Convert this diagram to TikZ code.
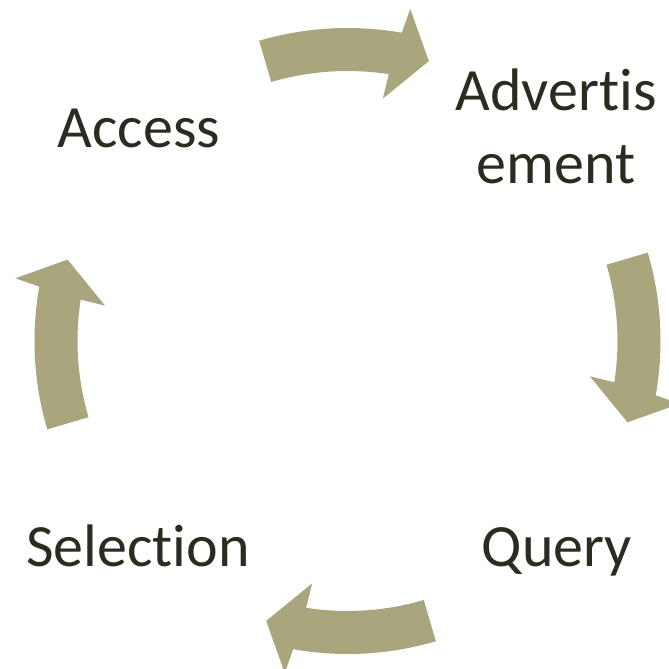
\documentclass[tikz,border=0pt]{standalone}
\usepackage{fontspec}
\setmainfont{Carlito}[Ligatures=CommonOff]
\definecolor{arrowcol}{RGB}{169,166,126}
\definecolor{textcol}{RGB}{45,42,32}
\definecolor{bggray}{RGB}{234,234,234}
\pgfdeclareradialshading{bgshade}{\pgfpoint{0bp}{0bp}}{color(0bp)=(white); color(34bp)=(white); color(50bp)=(bggray)}
\newcommand\cyclearrow[1]{%
  \fill[arrowfill] ({106.4+#1}:313pt) arc[start angle={106.4+#1}, end angle={80+#1}, radius=313pt]
    -- ({79.3+#1}:338pt) -- ({73.8+#1}:291.5pt) -- ({81.7+#1}:245pt) -- ({81.2+#1}:270pt)
    arc[start angle={81.2+#1}, end angle={106.4+#1}, radius=270pt] -- cycle;}
\tikzset{
  arrowfill/.style={fill=arrowcol},
  lbl/.style={text=textcol, inner sep=0pt, font=\fontsize{60}{73}\selectfont}
}
\begin{document}
\begin{tikzpicture}[x=1pt,y=1pt]
  \useasboundingbox (0,0) rectangle (669,669);
  \fill[white] (0,0) rectangle (669,669);
  \begin{scope}
    \clip (0,0) rectangle (669,669);
    \shade[shading=bgshade] (150,519) circle (760pt);
  \end{scope}
  % arrows of the cycle
  \begin{scope}[shift={(347.5,328)}]
    \cyclearrow{0}
    \cyclearrow{-90}
    \cyclearrow{-180}
    \cyclearrow{90}
  \end{scope}
  % labels
  \node[lbl, anchor=base] (access) at (139,521) {Access};
  \node[lbl, anchor=base] (advert) at (556,558) {\begin{tabular}[t]{@{}c@{}}Advertis\\ement\end{tabular}};
  \node[lbl, anchor=base] (query) at (557,102) {Query};
  \node[lbl, anchor=base] (selection) at (138,102) {Selection};
\end{tikzpicture}
\end{document}
